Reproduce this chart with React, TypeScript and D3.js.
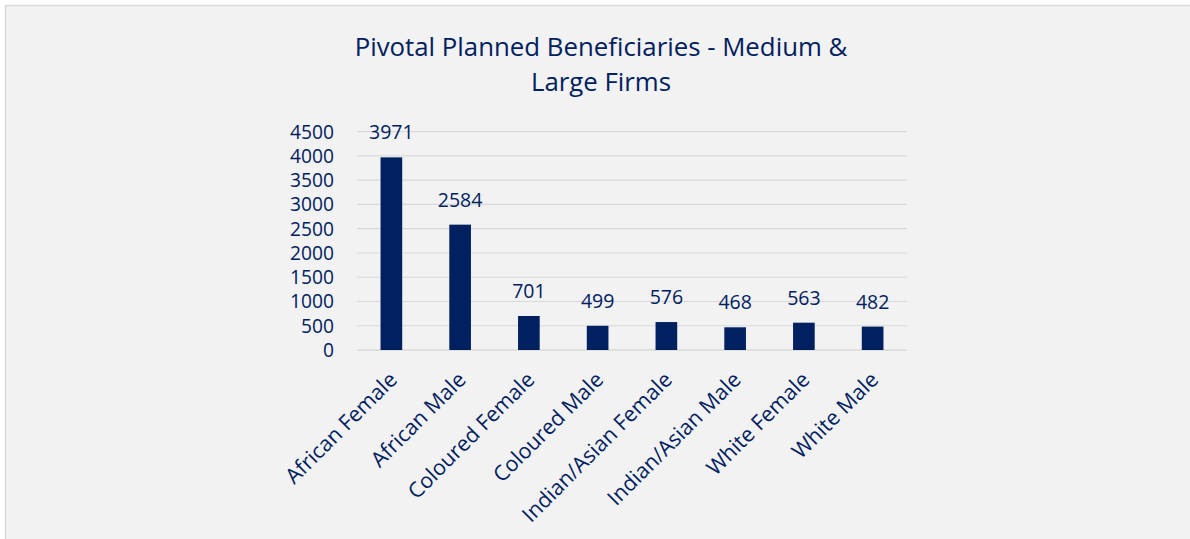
import React from "react";
import * as d3 from "d3";

const title1 = "Pivotal Planned Beneficiaries - Medium &";
const title2 = "Large Firms";
const categories = [
  "African Female",
  "African Male",
  "Coloured Female",
  "Coloured Male",
  "Indian/Asian Female",
  "Indian/Asian Male",
  "White Female",
  "White Male",
];
const values = [3971, 2584, 701, 499, 576, 468, 563, 482];
const yTicks = [0, 500, 1000, 1500, 2000, 2500, 3000, 3500, 4000, 4500];

const W = 1190;
const H = 539;
const plot = { left: 357, right: 907, top: 131.7, bottom: 350 };
const NAVY = "#002060";
const FONT = "'Open Sans', sans-serif";

export default function App() {
  const x = d3
    .scaleBand<string>()
    .domain(categories)
    .range([plot.left, plot.right])
    .paddingInner(0.685)
    .paddingOuter(0.3425);
  const y = d3.scaleLinear().domain([0, 4500]).range([plot.bottom, plot.top]);

  return (
    <svg
      width={W}
      height={H}
      style={{ position: "absolute", left: 0, top: 0, display: "block" }}
    >
      <rect x={0} y={0} width={W} height={H} fill="#ffffff" />
      <rect x={5.5} y={5.5} width={W + 10} height={H + 10} fill="#f2f2f2" stroke="#d9d9d9" strokeWidth={1.5} />
      <text x={601} y={56} textAnchor="middle" fill={NAVY} fontFamily={FONT} fontSize={25.8}>
        {title1}
      </text>
      <text x={601} y={91} textAnchor="middle" fill={NAVY} fontFamily={FONT} fontSize={25.8}>
        {title2}
      </text>
      {yTicks.map((t) => (
        <g key={t}>
          <line
            x1={plot.left}
            x2={plot.right}
            y1={y(t)}
            y2={y(t)}
            stroke="#d9d9d9"
            strokeWidth={t === 0 ? 1.5 : 1.2}
          />
          <text
            x={334}
            y={y(t) + 7}
            textAnchor="end"
            fill={NAVY}
            fontFamily={FONT}
            fontSize={19.2}
          >
            {t}
          </text>
        </g>
      ))}
      {categories.map((c, i) => {
        const bx = x(c)!;
        const cx = bx + x.bandwidth() / 2;
        return (
          <g key={c}>
            <rect x={bx} y={y(values[i])} width={x.bandwidth()} height={plot.bottom - y(values[i])} fill={NAVY} />
            <text
              x={cx}
              y={y(values[i]) - 18}
              textAnchor="middle"
              fill={NAVY}
              fontFamily={FONT}
              fontSize={19.5}
            >
              {values[i]}
            </text>
            <text
              transform={`translate(${cx + 7},${381}) rotate(-45)`}
              textAnchor="end"
              fill={NAVY}
              fontFamily={FONT}
              fontSize={21.3}
            >
              {c}
            </text>
          </g>
        );
      })}
    </svg>
  );
}
